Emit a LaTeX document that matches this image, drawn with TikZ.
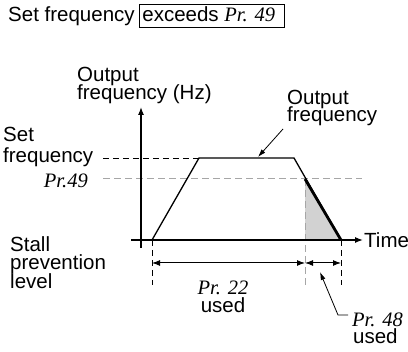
\documentclass[tikz,border=0pt]{standalone}
\usepackage{fontspec}
\setmainfont{Liberation Sans}
\newfontfamily\tmsfont{Liberation Serif}
\usetikzlibrary{arrows.meta}
\newcommand\prm[1]{{\tmsfont\itshape #1}}
\begin{document}
\begin{tikzpicture}[x=1pt,y=-1pt,
  lbl/.style={inner sep=0pt,font=\fontsize{20.5}{18}\selectfont,text height=14pt,text depth=2.5pt},
  axis/.style={line width=1.3pt,-{Latex[length=8pt,width=6pt]}},
  curve/.style={line width=1.3pt},
  dimarrow/.style={line width=1pt,{Latex[length=8pt,width=6pt]}-{Latex[length=8pt,width=6pt]}},
  leader/.style={line width=0.8pt,-{Latex[length=8pt,width=5pt]}},
  bdash/.style={line width=0.9pt,dash pattern=on 6pt off 4pt},
  gdash/.style={line width=1pt,gray!70,dash pattern=on 7pt off 4pt},
  boxed/.style={draw,line width=0.8pt,inner xsep=3pt,inner ysep=3pt,text height=15pt,text depth=2pt}]
\useasboundingbox (0,0) rectangle (408,352);
% title
\node[lbl,anchor=base west] (t1) at (8,22) {Set frequency};
\node[lbl,boxed,anchor=base west] (t2) at (139,22) {exceeds \prm{Pr. 49}\hspace*{6pt}};
% axes
\coordinate (yb) at (141,248);
\coordinate (yt) at (141,107);
\coordinate (xl) at (131,240);
\coordinate (xr) at (363,240);
% curve points
\coordinate (c0) at (152,240);
\coordinate (c1) at (199,158);
\coordinate (c2) at (294,158);
\coordinate (c3) at (341,240);
\coordinate (p49) at (305,179);
\coordinate (p49b) at (305,240);
% shaded region
\fill[gray!35] (p49) -- (c3) -- (p49b) -- cycle;
% dashed guide lines
\coordinate (sf0) at (103,158);
\coordinate (pr0) at (103,179);
\coordinate (pr1) at (362,179);
\draw[bdash] (sf0) -- (c1);
\draw[gdash] (pr0) -- (pr1);
\coordinate (v1) at (305,287);
\coordinate (v0) at (152,285);
\coordinate (v2) at (341,285);
\draw[gdash] (p49) -- (v1);
\draw[bdash] (c0) -- (v0);
\draw[bdash] (c3) -- (v2);
% axes
\draw[axis] (yb) -- (yt);
\draw[axis] (xl) -- (xr);
% output frequency curve
\draw[curve,line join=miter] (c0) -- (c1) -- (c2) -- (c3);
\draw[line width=2.8pt] (p49) -- (c3);
% dimension arrows
\coordinate (d0) at (152,263);
\coordinate (d1) at (305,263);
\coordinate (d2) at (341,263);
\draw[dimarrow] (d0) -- (d1);
\draw[dimarrow] (d1) -- (d2);
% labels
\node[lbl,anchor=base west] (oy1) at (77,82) {Output};
\node[lbl,anchor=base west] (oy2) at (77,100) {frequency (Hz)};
\node[lbl,anchor=base west] (of1) at (287,105) {Output};
\node[lbl,anchor=base west] (of2) at (287,122) {frequency};
\coordinate (ofa) at (283,129);
\coordinate (ofb) at (258,157);
\draw[leader] (ofa) -- (ofb);
\node[lbl,anchor=base west] (sf1) at (3,142) {Set};
\node[lbl,anchor=base west] (sf2) at (3,163) {frequency};
\node[lbl,anchor=base east] (p49l) at (88,188) {\prm{Pr.49}};
\node[lbl,anchor=base west] (st1) at (10,252) {Stall};
\node[lbl,anchor=base west] (st2) at (10,270) {prevention};
\node[lbl,anchor=base west] (st3) at (10,289) {level};
\node[lbl,anchor=base west] (time) at (364,248) {Time};
\node[lbl,anchor=base] (p22a) at (223,295) {\prm{Pr. 22}};
\node[lbl,anchor=base] (p22b) at (223,313) {used};
\node[lbl,anchor=base west] (p48a) at (352,327) {\prm{Pr. 48}};
\node[lbl,anchor=base west] (p48b) at (353,344) {used};
\coordinate (la) at (348,315);
\coordinate (lb) at (338,315);
\coordinate (lc) at (320,272);
\draw[leader] (la) -- (lb) -- (lc);
\end{tikzpicture}
\end{document}
